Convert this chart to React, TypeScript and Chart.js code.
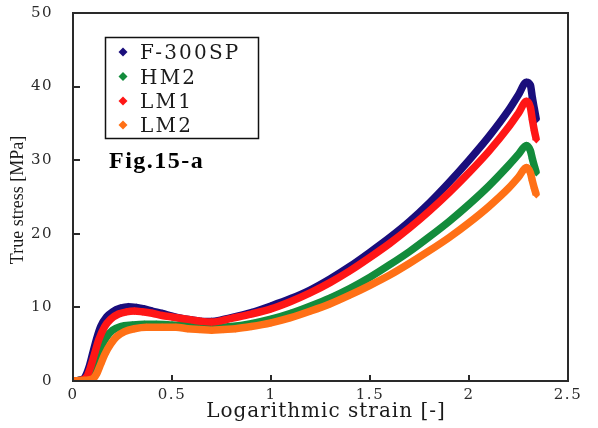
import { useEffect, useRef } from "react";
import { Chart, registerables } from "chart.js";

Chart.register(...registerables);

const seriesNames = ["F-300SP", "HM2", "LM1", "LM2"];
const seriesColors = ["#1a0e7c", "#138c3c", "#ff1616", "#ff7016"];

const strainF300SP = [0, 0.03, 0.06, 0.08, 0.1, 0.12, 0.14, 0.17, 0.2, 0.24, 0.28, 0.32, 0.36, 0.4, 0.45, 0.5, 0.55, 0.6, 0.65, 0.7, 0.75, 0.8, 0.9, 1.0, 1.1, 1.2, 1.3, 1.4, 1.5, 1.6, 1.7, 1.8, 1.9, 2.0, 2.1, 2.2, 2.25, 2.29, 2.31, 2.32, 2.33, 2.34];
const stressF300SP = [0, 0.1, 0.5, 1.8, 3.8, 5.8, 7.4, 8.7, 9.4, 9.9, 10.1, 10.0, 9.8, 9.5, 9.2, 8.8, 8.5, 8.3, 8.1, 8.1, 8.3, 8.6, 9.3, 10.2, 11.2, 12.4, 13.9, 15.6, 17.5, 19.5, 21.7, 24.2, 27.0, 30.0, 33.2, 36.8, 38.9, 40.6, 40.2, 38.5, 37.0, 35.5];

const strainHM2 = [0, 0.05, 0.08, 0.1, 0.12, 0.14, 0.17, 0.2, 0.24, 0.3, 0.36, 0.42, 0.5, 0.56, 0.62, 0.68, 0.74, 0.8, 0.9, 1.0, 1.1, 1.2, 1.3, 1.4, 1.5, 1.6, 1.7, 1.8, 1.9, 2.0, 2.1, 2.2, 2.25, 2.29, 2.31, 2.32, 2.33, 2.34];
const stressHM2 = [0, 0.1, 0.4, 1.5, 3.0, 4.5, 6.0, 6.9, 7.4, 7.6, 7.7, 7.7, 7.6, 7.5, 7.4, 7.3, 7.3, 7.4, 7.8, 8.4, 9.2, 10.2, 11.3, 12.6, 14.1, 15.8, 17.6, 19.6, 21.7, 24.0, 26.5, 29.3, 30.8, 32.0, 31.3, 30.2, 29.2, 28.3];

const strainLM1 = [0, 0.04, 0.07, 0.09, 0.11, 0.13, 0.16, 0.19, 0.23, 0.27, 0.31, 0.35, 0.4, 0.45, 0.5, 0.55, 0.6, 0.65, 0.7, 0.75, 0.8, 0.9, 1.0, 1.1, 1.2, 1.3, 1.4, 1.5, 1.6, 1.7, 1.8, 1.9, 2.0, 2.1, 2.2, 2.25, 2.29, 2.31, 2.32, 2.33, 2.34];
const stressLM1 = [0, 0.1, 0.6, 2.0, 3.8, 5.6, 7.4, 8.4, 9.1, 9.4, 9.5, 9.4, 9.2, 8.9, 8.7, 8.5, 8.3, 8.1, 8.0, 8.2, 8.5, 9.1, 9.8, 10.8, 12.0, 13.4, 15.0, 16.8, 18.7, 20.8, 23.1, 25.6, 28.3, 31.2, 34.5, 36.4, 38.0, 37.2, 35.5, 34.0, 32.8];

const strainLM2 = [0, 0.06, 0.1, 0.12, 0.14, 0.16, 0.19, 0.22, 0.26, 0.31, 0.37, 0.45, 0.52, 0.58, 0.64, 0.7, 0.76, 0.82, 0.9, 1.0, 1.1, 1.2, 1.3, 1.4, 1.5, 1.6, 1.7, 1.8, 1.9, 2.0, 2.1, 2.2, 2.25, 2.29, 2.31, 2.32, 2.33, 2.34];
const stressLM2 = [0, 0.1, 0.3, 1.0, 2.3, 3.6, 5.0, 6.0, 6.7, 7.1, 7.3, 7.3, 7.3, 7.1, 7.0, 6.9, 7.0, 7.1, 7.4, 7.9, 8.6, 9.5, 10.5, 11.7, 13.0, 14.4, 16.0, 17.7, 19.5, 21.5, 23.7, 26.2, 27.7, 29.0, 28.3, 27.2, 26.2, 25.3];

const xTicks = [0, 0.5, 1, 1.5, 2, 2.5];
const yTicks = [0, 10, 20, 30, 40, 50];
const xTitle = "Logarithmic strain [-]";
const yTitle = "True stress [MPa]";
const figLabel = "Fig.15-a";

const strains = [strainF300SP, strainHM2, strainLM1, strainLM2];
const stresses = [stressF300SP, stressHM2, stressLM1, stressLM2];
const drawOrder = [4, 3, 2, 1];

const decorPlugin = {
  id: "decor",
  beforeDraw(chart: any) {
    chart.ctx.letterSpacing = "1.5px";
  },
  afterDraw(chart: any) {
    const ctx = chart.ctx as CanvasRenderingContext2D;
    const { left, top, right, bottom } = chart.chartArea;
    ctx.save();
    ctx.letterSpacing = "0px";
    // frame
    ctx.strokeStyle = "#2a2a2a";
    ctx.lineWidth = 2;
    ctx.strokeRect(left, top, right - left, bottom - top);
    // inward ticks
    const xs = chart.scales.x;
    const ys = chart.scales.y;
    ctx.beginPath();
    xs.ticks.forEach((t: any) => {
      const p = Math.round(xs.getPixelForValue(t.value));
      ctx.moveTo(p, bottom);
      ctx.lineTo(p, bottom - 6);
    });
    ys.ticks.forEach((t: any) => {
      const p = Math.round(ys.getPixelForValue(t.value));
      ctx.moveTo(left, p);
      ctx.lineTo(left + 7, p);
    });
    ctx.stroke();

    // y title
    ctx.fillStyle = "#1a1a1a";
    ctx.save();
    ctx.translate(18, 200);
    ctx.rotate(-Math.PI / 2);
    ctx.font = '18px "Liberation Serif"';
    ctx.textAlign = "center";
    ctx.textBaseline = "middle";
    ctx.fillText(yTitle, 0, 0);
    ctx.restore();

    // x title
    ctx.save();
    ctx.font = '20px "DejaVu Serif"';
    ctx.letterSpacing = "1px";
    ctx.textAlign = "center";
    ctx.textBaseline = "alphabetic";
    ctx.fillText(xTitle, 326, 417);
    ctx.restore();

    // legend
    ctx.save();
    ctx.strokeStyle = "#111";
    ctx.lineWidth = 1.5;
    ctx.strokeRect(105.5, 37.5, 153, 101);
    ctx.font = '20px "DejaVu Serif"';
    ctx.letterSpacing = "2.2px";
    ctx.textAlign = "left";
    ctx.textBaseline = "alphabetic";
    const rows = [52, 76.5, 101, 125];
    seriesNames.forEach((name, i) => {
      const cy = rows[i];
      ctx.fillStyle = seriesColors[i];
      ctx.beginPath();
      ctx.moveTo(123, cy - 4.5);
      ctx.lineTo(127.5, cy);
      ctx.lineTo(123, cy + 4.5);
      ctx.lineTo(118.5, cy);
      ctx.closePath();
      ctx.fill();
      ctx.fillStyle = "#1a1a1a";
      ctx.fillText(name, 140, cy + 7);
    });
    ctx.restore();

    // figure label
    ctx.save();
    ctx.font = 'bold 24px "Liberation Serif"';
    ctx.letterSpacing = "1.5px";
    ctx.fillStyle = "#000";
    ctx.textAlign = "left";
    ctx.textBaseline = "alphabetic";
    ctx.fillText(figLabel, 109, 168);
    ctx.restore();

    ctx.restore();
    ctx.letterSpacing = "0px";
  },
};

export default function App() {
  const canvasRef = useRef<HTMLCanvasElement | null>(null);

  useEffect(() => {
    document.body.style.margin = "0";
    const canvas = canvasRef.current;
    if (!canvas) return;
    const chart = new Chart(canvas, {
      type: "scatter",
      data: {
        datasets: seriesNames.map((name, i) => ({
          label: name,
          data: strains[i].map((x, j) => ({ x, y: stresses[i][j] })),
          showLine: true,
          borderColor: seriesColors[i],
          backgroundColor: seriesColors[i],
          borderWidth: 7.5,
          pointStyle: "rectRot",
          pointRadius: 3.8,
          pointBorderWidth: 0,
          pointHoverRadius: 3.8,
          cubicInterpolationMode: "monotone",
          order: drawOrder[i],
        })),
      },
      options: {
        animation: false,
        responsive: false,
        events: [],
        layout: { autoPadding: false, padding: { left: 0, top: 13, right: 30, bottom: 0 } },
        plugins: {
          legend: { display: false },
          tooltip: { enabled: false },
        },
        scales: {
          x: {
            type: "linear",
            min: 0,
            max: 2.5,
            grid: { display: false },
            border: { display: false },
            afterBuildTicks: (s: any) => {
              s.ticks = xTicks.map((v) => ({ value: v }));
            },
            afterFit: (s: any) => {
              s.height = 47;
              s.paddingLeft = 0;
              s.paddingRight = 0;
            },
            ticks: {
              padding: -3,
              color: "#2a2a2a",
              font: { family: '"DejaVu Serif"', size: 15 },
              callback: (v: any) => String(v),
              maxRotation: 0,
            },
          },
          y: {
            type: "linear",
            min: 0,
            max: 50,
            grid: { display: false },
            border: { display: false },
            afterBuildTicks: (s: any) => {
              s.ticks = yTicks.map((v) => ({ value: v }));
            },
            afterFit: (s: any) => {
              s.width = 73;
              s.paddingTop = 0;
              s.paddingBottom = 0;
            },
            ticks: {
              padding: 12,
              color: "#2a2a2a",
              font: { family: '"DejaVu Serif"', size: 15 },
              callback: (v: any) => String(v),
            },
          },
        },
      },
      plugins: [decorPlugin],
    });
    return () => chart.destroy();
  }, []);

  return (
    <canvas
      ref={canvasRef}
      width={598}
      height={428}
      style={{ display: "block", width: 598, height: 428 }}
    />
  );
}
